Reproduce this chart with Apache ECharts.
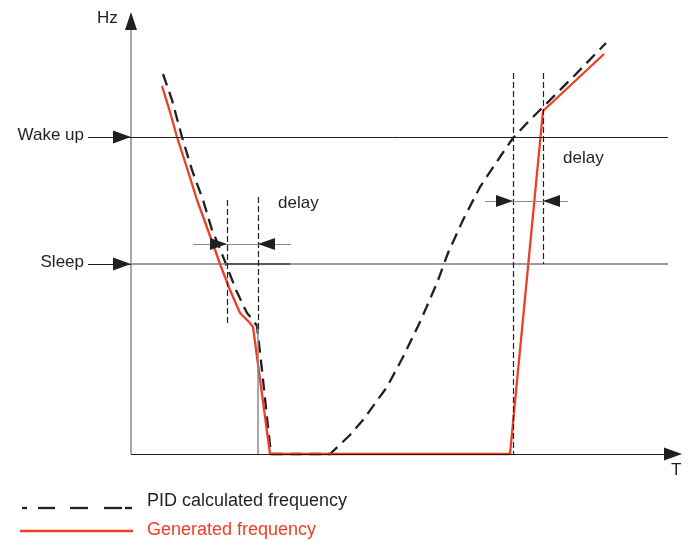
<!DOCTYPE html>
<html>
<head>
<meta charset="utf-8">
<script src="https://cdn.jsdelivr.net/npm/echarts@6/dist/echarts.min.js"></script>
<style>
html,body{margin:0;padding:0;background:#fff;}
#chart{width:692px;height:542px;}
</style>
</head>
<body>
<div id="chart"></div>
<script>
// ---- Data (T, Hz) ----
const pidCalculated = [[32,380],[41,354],[51,317],[61,284],[72,254],[81,224],[87,210],[95,190],[105,164],[116,141],[122,134],[126,128],[131,84],[137,27],[140,0],[199,0],[219,19],[232,34],[256,67],[272,97],[289,132],[306,171],[317,201],[332,234],[349,267],[369,297],[382,316],[397,332],[412,347],[444,379],[475,411]];
const generated = [[31,368],[39,342],[46,317],[56,286],[66,254],[74,232],[82,210],[89,190],[99,164],[109,141],[116,134],[119,131],[122,127],[139,0],[379,0],[412,343],[473,400]];
const levelNames = ['Wake up', 'Sleep'];
const levelValues = [317, 190];
const delayMarksLeft = [96, 127];   // T of dashed markers around sleep
const delayMarksRight = [382, 412]; // T of dashed markers around wake up
const seriesNames = ['PID calculated frequency', 'Generated frequency'];

const DARK = '#231f20', GREY = '#8a8a8a', RED = '#ee3e23';
const FONT = '"Liberation Sans", Arial, Helvetica, sans-serif';

function seg(x1, y1, x2, y2, style, endSym) {
  const a = {coord: [x1, y1], symbol: 'none', lineStyle: style};
  let b = {coord: [x2, y2], symbol: 'none'};
  if (endSym) {
    const dx = x2 - x1, dy = y2 - y1, L = Math.hypot(dx, dy);
    const h = endSym[1] / 2;
    b = {coord: [x2 - dx / L * h, y2 - dy / L * h], symbol: 'triangle', symbolSize: endSym};
  }
  return [a, b];
}

const thinDark = {color: DARK, width: 1, type: 'solid'};
const axisGrey = {color: GREY, width: 1.5, type: 'solid'};
const dashThin = {color: DARK, width: 1.2, type: [6, 3]};
const arrowHead = {color: DARK, width: 1, type: 'solid'};

const lines = [];
// axes
lines.push(seg(0, 0, 0, 440, axisGrey));
lines.push(seg(0, 424, 0, 442, arrowHead, [12, 18]));
lines.push(seg(0, 0, 551, 0, {color: DARK, width: 1.2, type: 'solid'}, [13, 18]));
// levels
lines.push(seg(0, levelValues[0], 537, levelValues[0], thinDark));
lines.push(seg(0, levelValues[1], 537, levelValues[1], {color: '#7a7a7a', width: 1.5, type: 'solid'}));
lines.push(seg(96, levelValues[1], 159, levelValues[1], {color: '#444', width: 1.5, type: 'solid'}));
levelValues.forEach(v => {
  lines.push(seg(-43, v, 0, v, thinDark));
  lines.push(seg(-18, v, 0, v, arrowHead, [13, 18]));
});
// grey vertical
lines.push(seg(127, 0, 127, 131, axisGrey));
// dashed markers
lines.push(seg(delayMarksLeft[0], 254, delayMarksLeft[0], 129, dashThin));
lines.push(seg(delayMarksLeft[1], 257, delayMarksLeft[1], 124, dashThin));
lines.push(seg(delayMarksRight[0], 381, delayMarksRight[0], 0, dashThin));
lines.push(seg(delayMarksRight[1], 381, delayMarksRight[1], levelValues[1], dashThin));
// delay arrows left (y=210)
lines.push(seg(62, 210, 160, 210, {color: GREY, width: 1.2, type: 'solid'}));
lines.push(seg(80, 210, delayMarksLeft[0], 210, arrowHead, [12, 17]));
lines.push(seg(143, 210, delayMarksLeft[1], 210, arrowHead, [12, 17]));
// delay arrows right (y=253)
lines.push(seg(354, 253, 437, 253, {color: GREY, width: 1.2, type: 'solid'}));
lines.push(seg(366, 253, delayMarksRight[0], 253, arrowHead, [12, 17]));
lines.push(seg(428, 253, delayMarksRight[1], 253, arrowHead, [12, 17]));

// legend dash segments (pixel x-ranges)
const legendDashes = [[22,27],[38,55],[70,88],[104,122],[125,132]];

const graphics = [
  {type: 'text', left: 97, top: 10, style: {text: 'Hz', font: '17px ' + FONT, fill: DARK}},
  {type: 'text', left: 671, top: 462, style: {text: 'T', font: '17px ' + FONT, fill: DARK}},
  {type: 'text', right: 692 - 84, top: 127, style: {text: levelNames[0], font: '17px ' + FONT, fill: DARK}},
  {type: 'text', right: 692 - 84, top: 254, style: {text: levelNames[1], font: '17px ' + FONT, fill: DARK}},
  {type: 'text', left: 278, top: 195, style: {text: 'delay', font: '17px ' + FONT, fill: DARK}},
  {type: 'text', left: 563, top: 150, style: {text: 'delay', font: '17px ' + FONT, fill: DARK}},
  {type: 'text', left: 147, top: 492, style: {text: seriesNames[0], font: '18px ' + FONT, fill: DARK}},
  {type: 'line', shape: {x1: 20, y1: 531, x2: 133, y2: 531}, style: {stroke: RED, lineWidth: 2.3}},
  {type: 'text', left: 147, top: 521, style: {text: seriesNames[1], font: '18px ' + FONT, fill: RED}}
];
legendDashes.forEach(d => graphics.push({type: 'line', shape: {x1: d[0], y1: 508, x2: d[1], y2: 508}, style: {stroke: DARK, lineWidth: 2.3}}));

const chart = echarts.init(document.getElementById('chart'), null, {renderer: 'canvas'});
chart.setOption({
  animation: false,
  backgroundColor: '#fff',
  grid: {left: 0, right: 0, top: 0, bottom: 0, containLabel: false},
  xAxis: {type: 'value', min: -131, max: 561, show: false},
  yAxis: {type: 'value', min: -88, max: 454, show: false},
  series: [
    {
      type: 'line', data: [], z: 1, silent: true,
      markLine: {silent: true, animation: false, label: {show: false}, symbol: ['none', 'none'],
        emphasis: {disabled: true}, data: lines}
    },
    {
      name: seriesNames[0], type: 'line', data: pidCalculated, showSymbol: false, z: 3, silent: true,
      lineStyle: {color: DARK, width: 2.3, type: [12, 7]}
    },
    {
      name: seriesNames[1], type: 'line', data: generated, showSymbol: false, z: 4, silent: true,
      lineStyle: {color: RED, width: 2.3, type: 'solid'}
    }
  ],
  graphic: graphics
});
</script>
</body>
</html>
